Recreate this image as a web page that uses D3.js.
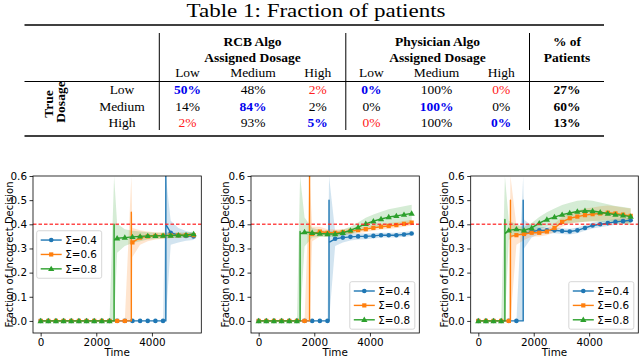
<!DOCTYPE html>
<html>
<head>
<meta charset="utf-8">
<script src="https://cdn.jsdelivr.net/npm/d3@7"></script>
<style>
  body { margin: 0; background: #fff; }
  svg { display: block; }
</style>
</head>
<body>
<div id="chart"></div>
<script>
//* table data
var dosages = ["Low", "Medium", "High"]
var rcbPct = [[50, 48, 2], [14, 84, 2], [2, 93, 5]]
var physPct = [[0, 100, 0], [0, 100, 0], [0, 100, 0]]
var patientPct = [27, 60, 13]

//* plot data (time grid where markers sit)
var gridT = [0, 275, 550, 825, 1100, 1375, 1650, 1925, 2200, 2475, 2750, 3025, 3300, 3575, 3850, 4125, 4400, 4675, 4950, 5225, 5500]
var sigmaLabels = ["\u03a3=0.4", "\u03a3=0.6", "\u03a3=0.8"]
var xTicks = [0, 2000, 4000]
var yTicks = [0.0, 0.1, 0.2, 0.3, 0.4, 0.5, 0.6]
var threshold = 0.4
var spikeBandTop = 0.6

// panel 1 : [Σ=0.4, Σ=0.6, Σ=0.8]
var p1Start = [4500, 3260, 2640]
var p1Peak = [0.65, 0.45, 0.40]
var p1Settle = [0.40, 0.32, 0.335]
var p1Blue = [0,0,0,0,0,0,0,0,0,0,0,0,0,0,0,0,0, 0.365,0.355,0.352,0.35]
var p1BlueSd = [0,0,0,0,0,0,0,0,0,0,0,0,0,0,0,0,0, 0.05,0.03,0.02,0.015]
var p1Orange = [0,0,0,0,0,0,0,0,0,0,0,0, 0.325,0.345,0.35,0.352,0.353,0.354,0.355,0.355,0.355]
var p1OrangeSd = [0,0,0,0,0,0,0,0,0,0,0,0, 0.06,0.03,0.02,0.015,0.013,0.012,0.011,0.01,0.01]
var p1Green = [0,0,0,0,0,0,0,0,0,0, 0.342,0.345,0.348,0.35,0.352,0.352,0.353,0.354,0.355,0.356,0.36]
var p1GreenSd = [0,0,0,0,0,0,0,0,0,0, 0.06,0.035,0.025,0.02,0.015,0.013,0.012,0.011,0.01,0.01,0.01]

// panel 2
var p2Start = [2530, 1830, 1490]
var p2Peak = [0.50, 0.62, 0.37]
var p2Settle = [0.325, 0.355, 0.36]
var p2Blue = [0,0,0,0,0,0,0,0,0,0, 0.34,0.345,0.348,0.35,0.35,0.352,0.355,0.355,0.355,0.358,0.362]
var p2BlueSd = [0,0,0,0,0,0,0,0,0,0, 0.03,0.02,0.015,0.013,0.012,0.011,0.01,0.01,0.01,0.01,0.01]
var p2Orange = [0,0,0,0,0,0,0, 0.36,0.37,0.365,0.365,0.368,0.372,0.376,0.38,0.385,0.39,0.393,0.397,0.402,0.407]
var p2OrangeSd = [0,0,0,0,0,0,0, 0.03,0.02,0.015,0.013,0.012,0.012,0.012,0.012,0.012,0.012,0.012,0.012,0.012,0.012]
var p2Green = [0,0,0,0,0,0, 0.368,0.365,0.362,0.36,0.36,0.365,0.375,0.388,0.402,0.413,0.422,0.43,0.435,0.44,0.445]
var p2GreenSd = [0,0,0,0,0,0, 0.06,0.02,0.015,0.012,0.012,0.013,0.015,0.02,0.025,0.028,0.03,0.032,0.034,0.035,0.036]

// panel 3
var p3Start = [1620, 1160, 960]
var p3Peak = [0.50, 0.50, 0.42]
var p3Settle = [0.35, 0.35, 0.36]
var p3Blue = [0,0,0,0,0,0, 0.36,0.37,0.375,0.375,0.375,0.372,0.37,0.375,0.385,0.395,0.40,0.405,0.41,0.413,0.417]
var p3BlueSd = [0,0,0,0,0,0, 0.06,0.025,0.015,0.013,0.012,0.012,0.012,0.012,0.012,0.012,0.012,0.012,0.012,0.012,0.012]
var p3Orange = [0,0,0,0,0, 0.355,0.36,0.365,0.365,0.37,0.385,0.41,0.425,0.432,0.438,0.442,0.445,0.448,0.445,0.44,0.435]
var p3OrangeSd = [0,0,0,0,0, 0.04,0.025,0.015,0.015,0.015,0.018,0.02,0.022,0.025,0.027,0.028,0.03,0.03,0.03,0.03,0.03]
var p3Green = [0,0,0,0, 0.375,0.38,0.375,0.385,0.405,0.42,0.43,0.44,0.447,0.453,0.456,0.455,0.45,0.445,0.44,0.437,0.432]
var p3GreenSd = [0,0,0,0, 0.04,0.02,0.015,0.02,0.025,0.03,0.035,0.04,0.042,0.045,0.045,0.043,0.04,0.038,0.036,0.035,0.035]

var colors = ["#1f77b4", "#ff7f0e", "#2ca02c"]

var width = 640, height = 358
var svg = d3.select("#chart").append("svg")
    .attr("width", width)
    .attr("height", height)

//* ---------------- table ----------------
var serif = "'Liberation Serif', 'Times New Roman', serif"
var tb = svg.append("g").style("font-family", serif)

// title is a bit wider than tall in the scan, so stretch it horizontally
tb.append("text")
    .attr("transform", "translate(316,17.3) scale(1.18,1)")
    .attr("text-anchor", "middle")
    .style("font-size", "19.5px")
    .text("Table 1: Fraction of patients")

// rules
tb.append("line").attr("x1", 24.5).attr("x2", 604).attr("y1", 25).attr("y2", 25).attr("stroke", "#000").attr("stroke-width", 1.6)
tb.append("line").attr("x1", 24.5).attr("x2", 604).attr("y1", 81.5).attr("y2", 81.5).attr("stroke", "#000").attr("stroke-width", 1)
tb.append("line").attr("x1", 24.5).attr("x2", 604).attr("y1", 136).attr("y2", 136).attr("stroke", "#000").attr("stroke-width", 1.6)
;[159.3, 345.8, 529.5].forEach(function (x) {
    tb.append("line").attr("x1", x).attr("x2", x).attr("y1", 33).attr("y2", 130).attr("stroke", "#000").attr("stroke-width", 1)
})

var rcbX = [187.5, 253, 317.7]
var physX = [371.4, 436.5, 501.2]
var pctX = 567
var rowY = [94.3, 110.5, 126.7]
var fs = "13.5px"

function headText(x, y, t, bold) {
    tb.append("text").attr("x", x).attr("y", y)
        .attr("text-anchor", "middle")
        .style("font-size", fs)
        .style("font-weight", bold ? "bold" : "normal")
        .text(t)
}
headText(252.5, 45.5, "RCB Algo", true)
headText(252.5, 61.5, "Assigned Dosage", true)
headText(437.5, 45.5, "Physician Algo", true)
headText(437.5, 61.5, "Assigned Dosage", true)
headText(pctX, 45.5, "% of", true)
headText(pctX, 61.5, "Patients", true)
dosages.forEach(function (d, i) {
    headText(rcbX[i], 76.5, d, false)
    headText(physX[i], 76.5, d, false)
})

// rotated row header
tb.append("text").attr("transform", "translate(52.5,104) rotate(-90)")
    .attr("text-anchor", "middle").style("font-size", fs).style("font-weight", "bold").text("True")
tb.append("text").attr("transform", "translate(64.5,102) rotate(-90)")
    .attr("text-anchor", "middle").style("font-size", fs).style("font-weight", "bold").text("Dosage")

function cellStyle(r, c) {
    if (r == c) return {fill: "#0000ee", weight: "bold"}
    if (Math.abs(r - c) == 2) return {fill: "#ff2020", weight: "normal"}
    return {fill: "#000", weight: "normal"}
}

dosages.forEach(function (d, r) {
    headText(122, rowY[r], d, false)
    ;[[rcbPct, rcbX], [physPct, physX]].forEach(function (pair) {
        pair[0][r].forEach(function (v, c) {
            var st = cellStyle(r, c)
            tb.append("text").attr("x", pair[1][c]).attr("y", rowY[r])
                .attr("text-anchor", "middle")
                .style("font-size", fs)
                .style("font-weight", st.weight)
                .attr("fill", st.fill)
                .text(v + "%")
        })
    })
    headText(pctX, rowY[r], patientPct[r] + "%", true)
})

//* ---------------- plots ----------------
var sans = "'DejaVu Sans', sans-serif"
var plotTop = 176, plotBottom = 333

var panels = [
    {left: 33, right: 201.3, labelX: 8.5, legend: "left",
     start: p1Start, peak: p1Peak, settle: p1Settle,
     vals: [p1Blue, p1Orange, p1Green], sd: [p1BlueSd, p1OrangeSd, p1GreenSd]},
    {left: 251, right: 419.3, labelX: 225, legend: "lowerright",
     start: p2Start, peak: p2Peak, settle: p2Settle,
     vals: [p2Blue, p2Orange, p2Green], sd: [p2BlueSd, p2OrangeSd, p2GreenSd]},
    {left: 470.7, right: 638.3, labelX: 443.5, legend: "lowerright",
     start: p3Start, peak: p3Peak, settle: p3Settle,
     vals: [p3Blue, p3Orange, p3Green], sd: [p3BlueSd, p3OrangeSd, p3GreenSd]}
]

function marker(g, k, x, y) {
    if (k == 0) {
        g.append("circle").attr("cx", x).attr("cy", y).attr("r", 2.3).attr("fill", colors[k])
    } else if (k == 1) {
        g.append("rect").attr("x", x - 2.1).attr("y", y - 2.1).attr("width", 4.2).attr("height", 4.2).attr("fill", colors[k])
    } else {
        g.append("path").attr("d", d3.symbol().type(d3.symbolTriangle).size(17)())
            .attr("transform", "translate(" + x + "," + (y + 0.4) + ")").attr("fill", colors[k])
    }
}

panels.forEach(function (p, pi) {
    var x = d3.scaleLinear().domain([-275, 5775]).range([p.left, p.right])
    var y = d3.scaleLinear().domain([-0.05, 0.6]).range([plotBottom, plotTop])
    var g = svg.append("g").style("font-family", sans)

    var clipId = "clip" + pi
    svg.append("clipPath").attr("id", clipId)
        .append("rect").attr("x", p.left).attr("y", plotTop)
        .attr("width", p.right - p.left).attr("height", plotBottom - plotTop)
    var inner = g.append("g").attr("clip-path", "url(#" + clipId + ")")

    // build bands + lines per series
    var series = [0, 1, 2].map(function (k) {
        var line = [], band = []
        gridT.forEach(function (t, i) {
            if (t < p.start[k]) { line.push([t, p.vals[k][i]]); band.push([t, 0, 0]) }
        })
        line.push([p.start[k], 0], [p.start[k], p.peak[k]], [p.start[k], p.settle[k]])
        band.push([p.start[k], 0, spikeBandTop])
        gridT.forEach(function (t, i) {
            if (t > p.start[k]) {
                line.push([t, p.vals[k][i]])
                band.push([t, p.vals[k][i] - p.sd[k][i], p.vals[k][i] + p.sd[k][i]])
            }
        })
        return {line: line, band: band}
    })

    var area = d3.area().x(function (d) { return x(d[0]) }).y0(function (d) { return y(d[1]) }).y1(function (d) { return y(d[2]) })
    var ln = d3.line().x(function (d) { return x(d[0]) }).y(function (d) { return y(d[1]) })

    series.forEach(function (s, k) {
        inner.append("path").attr("d", area(s.band)).attr("fill", colors[k]).attr("fill-opacity", 0.2)
    })
    series.forEach(function (s, k) {
        inner.append("path").attr("d", ln(s.line)).attr("fill", "none")
            .attr("stroke", colors[k]).attr("stroke-width", 1.4).attr("stroke-linejoin", "round")
        gridT.forEach(function (t, i) { marker(inner, k, x(t), y(p.vals[k][i])) })
    })

    // threshold
    inner.append("line").attr("x1", p.left).attr("x2", p.right)
        .attr("y1", y(threshold)).attr("y2", y(threshold))
        .attr("stroke", "#ff2a2a").attr("stroke-opacity", 0.85)
        .attr("stroke-width", 1.5).attr("stroke-dasharray", "3.5,2")

    // axes
    var xa = g.append("g").attr("transform", "translate(0," + plotBottom + ")")
        .call(d3.axisBottom(x).tickValues(xTicks).tickSize(3.5).tickPadding(2.5).tickFormat(d3.format("d")))
    var ya = g.append("g").attr("transform", "translate(" + p.left + ",0)")
        .call(d3.axisLeft(y).tickValues(yTicks).tickSize(3.5).tickPadding(2.5).tickFormat(d3.format(".1f")))
    ;[xa, ya].forEach(function (a) {
        a.select(".domain").remove()
        a.selectAll("text").style("font-family", sans).style("font-size", "10.4px").attr("fill", "#000")
        a.selectAll("line").attr("stroke", "#000").attr("stroke-width", 0.8)
    })
    g.append("rect").attr("x", p.left).attr("y", plotTop)
        .attr("width", p.right - p.left).attr("height", plotBottom - plotTop)
        .attr("fill", "none").attr("stroke", "#000").attr("stroke-width", 0.8)

    g.append("text").attr("x", (p.left + p.right) / 2).attr("y", 356)
        .attr("text-anchor", "middle").style("font-size", "10.4px").text("Time")
    g.append("text").attr("transform", "translate(" + (p.labelX + 4) + "," + ((plotTop + plotBottom) / 2) + ") rotate(-90)")
        .attr("text-anchor", "middle").style("font-size", "10px").text("Fraction of Incorrect Decision")

    // legend
    var lw = 65, lh = 47.5, lx, ly
    if (p.legend == "left") { lx = p.left + 3.7; ly = (plotTop + plotBottom) / 2 - lh / 2 }
    else { lx = p.right - 4.5 - lw; ly = plotBottom - 3.8 - lh }
    var lg = g.append("g")
    lg.append("rect").attr("x", lx).attr("y", ly).attr("width", lw).attr("height", lh)
        .attr("rx", 2).attr("fill", "#fff").attr("fill-opacity", 0.8)
        .attr("stroke", "#cccccc").attr("stroke-width", 0.8)
    sigmaLabels.forEach(function (lab, k) {
        var yy = ly + 9.3 + k * 14.4
        lg.append("line").attr("x1", lx + 4).attr("x2", lx + 25).attr("y1", yy).attr("y2", yy)
            .attr("stroke", colors[k]).attr("stroke-width", 1.4)
        marker(lg, k, lx + 14.5, yy)
        lg.append("text").attr("x", lx + 28.5).attr("y", yy + 3.7)
            .style("font-size", "10.4px").text(lab)
    })
})
</script>
</body>
</html>
